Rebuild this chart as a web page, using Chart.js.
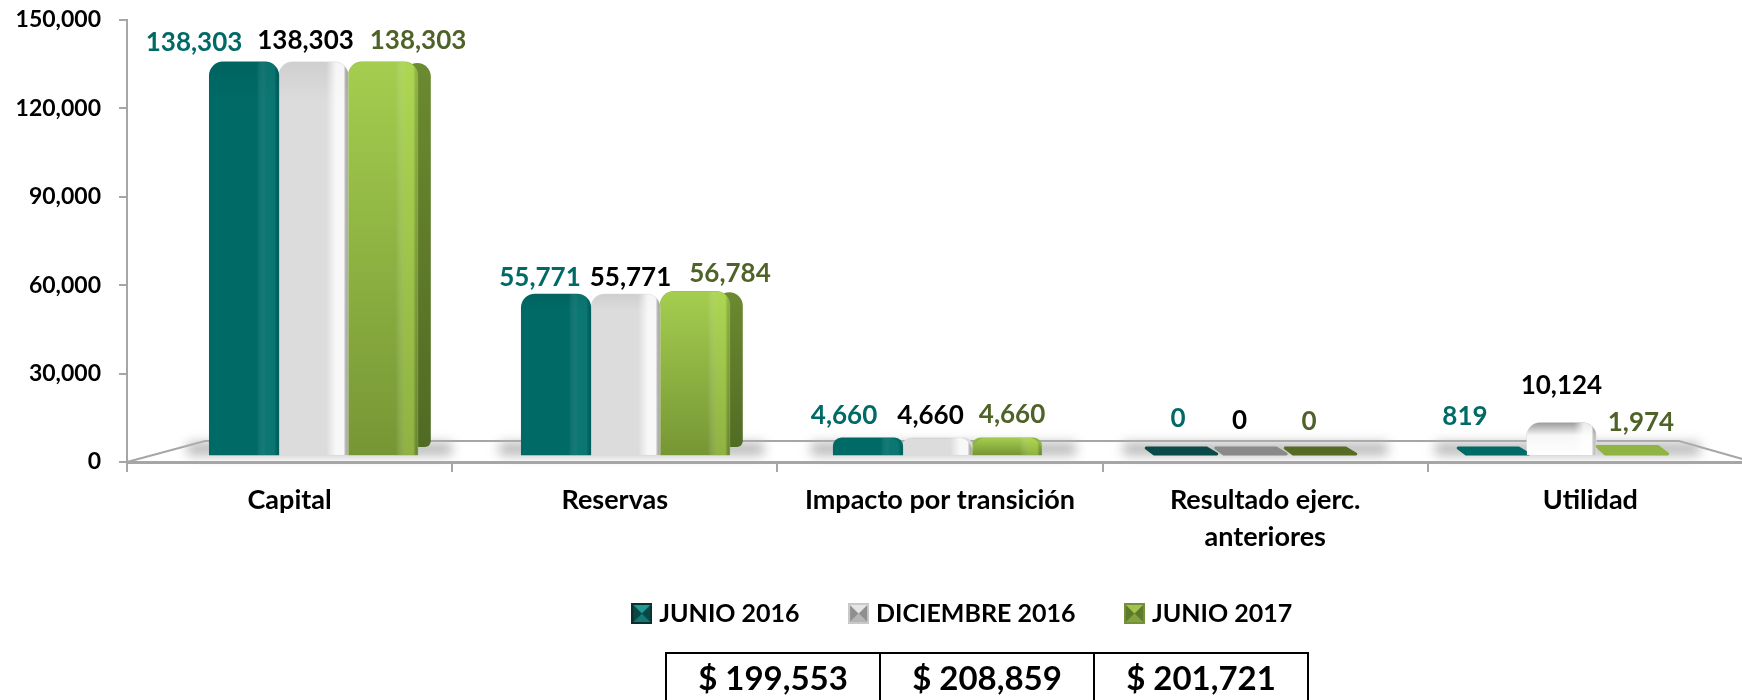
<!DOCTYPE html>
<html>
<head>
<meta charset="utf-8">
<title>Capital contable</title>
<script src="https://cdn.jsdelivr.net/npm/chart.js@4"></script>
<style>
  html, body { margin: 0; padding: 0; background: #fff; overflow: hidden; width: 1742px; height: 700px; }
  #wrap { position: relative; width: 1742px; height: 700px; overflow: hidden; }
  canvas { position: absolute; left: 0; top: 0; }
  /* totals under the legend, the bottom edge is cut off by the picture */
  #totals { position: absolute; left: 665px; top: 652px; border-collapse: collapse; font: bold 33px Lato, sans-serif; color: #000; }
  #totals td { width: 214px; height: 58px; padding: 0 0 10px 0; text-align: center; border: 2px solid #000; box-sizing: border-box; }
</style>
</head>
<body>
<div id="wrap">
  <canvas id="chart" width="1760" height="700"></canvas>
  <table id="totals"><tr id="totals-row"></tr></table>
</div>
<script>
const categories = ["Capital", "Reservas", "Impacto por transición", ["Resultado ejerc.", "anteriores"], "Utilidad"];
const slots = [0, 1, 2, 3, 4];
const seriesNames = ["JUNIO 2016", "DICIEMBRE 2016", "JUNIO 2017"];
const junio2016 = [138303, 55771, 4660, 0, 819];
const diciembre2016 = [138303, 55771, 4660, 0, 10124];
const junio2017 = [138303, 56784, 4660, 0, 1974];
const totals = ["$ 199,553", "$ 208,859", "$ 201,721"];

const FONT = "Lato, sans-serif";
const labelColors = ["#006a66", "#000000", "#4f6228"];
const bodyColors = ["#006a66", "#dcdcdc", "#8fb444"];
const flatColors = ["#0a4a48", "#8a8a8a", "#566b24"];

// labels were placed by hand in the original, so each one is nudged off its bar
const labelNudge = [
  [[-50, -19], [-8, -21], [35, -21]],
  [[-16, -16], [5, -16], [35, -18]],
  [[-24, -22], [-7, -22], [5, -23]],
  [[-2, -28], [-10, -26], [-10, -25]],
  [[-27, -30], [0, -37], [10, -23]]
];

document.getElementById("totals-row").innerHTML = totals.map(t => `<td>${t}</td>`).join("");

//legend squares with the bevelled look
function legendIcon(frame, side, top, middle) {
  const c = document.createElement("canvas");
  c.width = 21;
  c.height = 21;
  const g = c.getContext("2d");
  g.fillStyle = frame;
  g.fillRect(0, 0, 21, 21);
  const tri = (color, pts) => {
    g.fillStyle = color;
    g.beginPath();
    g.moveTo(pts[0], pts[1]);
    g.lineTo(pts[2], pts[3]);
    g.lineTo(pts[4], pts[5]);
    g.closePath();
    g.fill();
  };
  tri(side, [2, 2, 2, 19, 10.5, 10.5]);
  tri(side, [19, 2, 19, 19, 10.5, 10.5]);
  tri(top, [2, 2, 19, 2, 10.5, 10.5]);
  tri(middle, [2, 19, 19, 19, 10.5, 10.5]);
  return c;
}
const icons = [
  legendIcon("#08302f", "#0a4644", "#1f9a94", "#137a76"),
  legendIcon("#c9c9c9", "#8f8f8f", "#e6e6e6", "#b5b5b5"),
  legendIcon("#74903a", "#5d7a2a", "#a3c24e", "#84a33c")
];

function eachBar(chart, fn) {
  chart.data.datasets.forEach((ds, d) => {
    chart.getDatasetMeta(d).data.forEach((bar, i) => fn(bar, d, i));
  });
}

function barPath(ctx, bar, r) {
  const x = bar.x - bar.width / 2;
  ctx.beginPath();
  ctx.roundRect(x, bar.y, bar.width, bar.base - bar.y, [r, r, 0, 0]);
}

const bars3d = {
  id: "bars3d",
  afterLayout(chart) {
    //the legend sits right of the page centre
    chart.legend.left += 88;
    chart.legend.right += 88;
  },
  beforeDatasetsDraw(chart) {
    const { ctx, chartArea } = chart;
    const floorBack = chartArea.bottom - 21;
    const x0 = chartArea.left;
    const x1 = chartArea.right;
    // floor of the 3D plot
    ctx.save();
    ctx.strokeStyle = "#a6a6a6";
    ctx.lineWidth = 2;
    ctx.beginPath();
    ctx.moveTo(x0, chartArea.bottom);
    ctx.lineTo(x0 + 78, floorBack);
    ctx.lineTo(x1 - 74, floorBack);
    ctx.lineTo(x1, chartArea.bottom);
    ctx.stroke();

    // soft shadow round each group
    const first = chart.getDatasetMeta(0).data;
    const last = chart.getDatasetMeta(2).data;
    ctx.filter = "blur(6px)";
    ctx.fillStyle = "#b4b4b4";
    first.forEach((bar, i) => {
      const left = bar.x - bar.width / 2 - 22;
      const right = last[i].x + last[i].width / 2 + 34;
      ctx.fillRect(left, bar.base - 12, right - left, 12);
    });
    ctx.filter = "none";

    // dark side face, only the green bars show it
    last.forEach(bar => {
      const h = bar.base - bar.y;
      if (h < 60) return;
      const right = bar.x + bar.width / 2;
      const g = ctx.createLinearGradient(0, bar.y, 0, bar.base);
      g.addColorStop(0, "#6c8a30");
      g.addColorStop(1, "#506a24");
      ctx.fillStyle = g;
      ctx.beginPath();
      ctx.roundRect(right - 14, bar.y + 1, 27, h - 9, [14, 14, 6, 6]);
      ctx.fill();
    });
    ctx.restore();
  },
  afterDatasetsDraw(chart) {
    const { ctx } = chart;
    ctx.save();
    eachBar(chart, (bar, d, i) => {
      const h = bar.base - bar.y;
      const x = bar.x - bar.width / 2;
      const value = chart.data.datasets[d].data[i].y;
      // nearly empty bars only show their slanted top face
      if (h < 14) {
        ctx.fillStyle = value === 0 ? flatColors[d] : bodyColors[d];
        ctx.strokeStyle = ctx.fillStyle;
        ctx.lineWidth = 3;
        ctx.lineJoin = "round";
        ctx.beginPath();
        ctx.moveTo(x + 1, bar.y + 1);
        ctx.lineTo(x + bar.width - 8, bar.y + 1);
        ctx.lineTo(x + bar.width + 2, bar.base - 1);
        ctx.lineTo(x + 9, bar.base - 1);
        ctx.closePath();
        ctx.fill();
        ctx.stroke();
        return;
      }
      barPath(ctx, bar, 14);
      ctx.save();
      ctx.clip();
      // vertical shading
      const v = ctx.createLinearGradient(0, bar.y, 0, bar.base);
      if (d === 2) {
        v.addColorStop(0, "rgba(172,214,82,0.75)");
        v.addColorStop(1, "rgba(110,140,48,0.75)");
      } else if (d === 1 && h > 25 && h < 60) {
        v.addColorStop(0, "#9a9a9a");
        v.addColorStop(0.4, "#f6f6f6");
        v.addColorStop(1, "#ffffff");
      } else {
        v.addColorStop(0, "rgba(0,0,0,0.06)");
        v.addColorStop(0.1, "rgba(0,0,0,0)");
      }
      ctx.fillStyle = v;
      ctx.fillRect(x, bar.y, bar.width, h);
      // light strip near the right edge
      const s = ctx.createLinearGradient(x + bar.width * 0.68, 0, x + bar.width, 0);
      const light = d === 0 ? "rgba(40,150,145,0.28)" : d === 1 ? "rgba(255,255,255,0.8)" : "rgba(190,230,90,0.35)";
      s.addColorStop(0, "rgba(255,255,255,0)");
      s.addColorStop(0.45, light);
      s.addColorStop(0.8, light);
      s.addColorStop(1, "rgba(0,0,0,0.12)");
      ctx.fillStyle = s;
      ctx.fillRect(x, bar.y, bar.width, h);
      ctx.restore();
    });
    ctx.restore();

    // value labels
    ctx.save();
    ctx.textAlign = "center";
    ctx.textBaseline = "middle";
    ctx.font = "bold 26px " + FONT;
    eachBar(chart, (bar, d, i) => {
      const n = labelNudge[i][d];
      ctx.fillStyle = labelColors[d];
      ctx.fillText(chart.data.datasets[d].data[i].y.toLocaleString("en-US"), bar.x + n[0], bar.y + n[1]);
    });
    ctx.restore();
  }
};

function makeDataset(name, values, d) {
  return {
    label: name,
    data: slots.map(i => ({ x: i, y: values[i] })),
    xAxisID: "xBars",
    yAxisID: "yBars",
    base: -1429,
    barThickness: 69.5,
    minBarLength: 8,
    borderRadius: 14,
    borderSkipped: "bottom",
    backgroundColor: c => (c.parsed && c.parsed.y < 3000 ? "transparent" : bodyColors[d])
  };
}

new Chart(document.getElementById("chart"), {
  type: "bar",
  plugins: [bars3d],
  data: {
    labels: categories,
    datasets: [
      makeDataset(seriesNames[0], junio2016, 0),
      makeDataset(seriesNames[1], diciembre2016, 1),
      makeDataset(seriesNames[2], junio2017, 2)
    ]
  },
  options: {
    responsive: false,
    animation: false,
    locale: "en-US",
    layout: { padding: { left: 0, right: 7, top: 20, bottom: 64 } },
    plugins: {
      tooltip: { enabled: false },
      legend: {
        position: "bottom",
        onClick: null,
        labels: {
          color: "#000",
          font: { family: FONT, size: 25, weight: "bold" },
          usePointStyle: true,
          pointStyleWidth: 10,
          boxHeight: 21,
          padding: 54,
          generateLabels: () => seriesNames.map((text, i) => ({
            text, pointStyle: icons[i], datasetIndex: i, lineWidth: 0,
            fillStyle: bodyColors[i], strokeStyle: "transparent", fontColor: "#000"
          }))
        }
      }
    },
    scales: {
      x: {
        type: "category",
        position: "bottom",
        offset: true,
        afterFit: s => { s.height = 85; },
        border: { color: "#a6a6a6", width: 3 },
        grid: { offset: true, drawOnChartArea: false, color: "#a6a6a6", lineWidth: 2, tickLength: 10 },
        ticks: {
          color: "#000", maxRotation: 0, autoSkip: false, padding: 10,
          font: { family: FONT, size: 27, weight: "bold", lineHeight: 1.37 }
        }
      },
      y: {
        type: "linear",
        position: "left",
        min: 0,
        max: 150000,
        //keep the plot top where the original has it, the top label may stick out
        afterFit: s => { s.width = 127; s.paddingTop = 0; s.paddingBottom = 0; },
        border: { color: "#a6a6a6", width: 2 },
        grid: { drawOnChartArea: false, color: "#a6a6a6", lineWidth: 2, tickLength: 8 },
        ticks: {
          stepSize: 30000, color: "#000", padding: 18,
          font: { family: FONT, size: 23, weight: "bold" }
        }
      },
      //the bars stand further in on the 3D floor, so they get their own hidden scales
      xBars: { type: "linear", axis: "x", display: false, offset: false, min: -0.598, max: 4.614 },
      yBars: { type: "linear", axis: "y", display: false, min: -3929, max: 153214 }
    }
  }
});
</script>
</body>
</html>
